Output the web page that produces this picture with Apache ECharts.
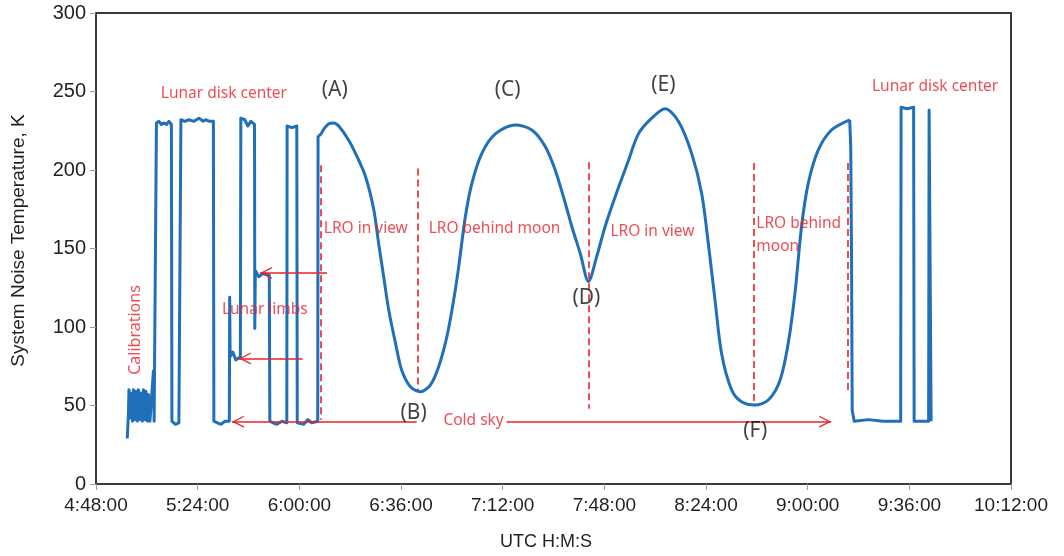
<!DOCTYPE html>
<html><head><meta charset="utf-8">
<script src="https://cdn.jsdelivr.net/npm/echarts@6/dist/echarts.min.js"></script>
<style>html,body{margin:0;padding:0;background:#fff}#c{width:1064px;height:556px}</style>
</head><body><div id="c"></div>
<script>
// ---------- data ----------
const xTickLabels = ['4:48:00','5:24:00','6:00:00','6:36:00','7:12:00','7:48:00','8:24:00','9:00:00','9:36:00','10:12:00'];

// calibrations, lunar disk center blocks, lunar limbs, cold sky
const stepTimes = ['4:59:04','4:59:30','4:59:40','5:00:02','5:00:23','5:00:55','5:01:16','5:01:48','5:02:09','5:02:41','5:03:02','5:03:34','5:03:55','5:04:27','5:04:48','5:05:20','5:05:41','5:06:13','5:06:34','5:07:06','5:07:48','5:08:20','5:08:35','5:09:13',
  '5:09:24','5:10:17','5:11:10','5:12:03','5:12:56','5:13:49','5:14:42','5:14:53','5:16:07','5:17:21','5:17:53',
  '5:18:04','5:19:30','5:20:54','5:22:40','5:24:26','5:26:00','5:26:55','5:28:15','5:29:34','5:29:44','5:31:00','5:32:13','5:33:40','5:35:13',
  '5:35:20','5:35:30','5:36:27','5:37:31','5:39:07','5:39:17','5:40:42','5:41:46','5:42:50','5:44:08','5:44:14','5:44:25','5:45:39','5:47:04','5:49:22','5:49:33','5:50:45','5:52:01','5:53:50','5:55:34',
  '5:55:40','5:57:20','5:59:06','5:59:16','6:01:34','6:02:59','6:04:24','6:06:31','6:06:38'];
const stepValues = [29,45,60,42,58,40,60,41,59,40,60,41,58,40,60,41,59,40,57,40,39,72,40,40,
  230,231,229,230,229,231,229,40,38,39,40,
  232,231,232,231,233,231,232,231,231,40,39,38,40,40,
  119,81,84,79,81,233,232,228,231,229,99,136,132,134,133,40,39,38,40,39,
  228,227,228,39,38,41,39,40,222];

// tracking LRO: (A) .. (F)
const curveTimes = ['6:06:38','6:07:07','6:08:39','6:10:25','6:12:11','6:13:57','6:17:29','6:20:19','6:23:24','6:26:20','6:28:06','6:29:52','6:31:38','6:34:01','6:36:14','6:39:19','6:42:51','6:46:23','6:49:20','6:52:16','6:54:38','6:56:24','6:58:46','7:01:06','7:04:38','7:09:23','7:16:27','7:22:20','7:27:04','7:30:36','7:34:09','7:36:29','7:39:27','7:42:23','7:45:19','7:48:17','7:51:50','7:56:32','8:00:04','8:04:46','8:09:31','8:14:13','8:18:55','8:22:28','8:24:50','8:27:12','8:29:32','8:33:04','8:36:36','8:41:21','8:46:03','8:50:11','8:53:07','8:55:30','8:57:50','9:00:12','9:03:44','9:08:27','9:14:53'];
const curveValues = [222,222,226,229.5,230,228,219,209,196,175,153,132,111,90,72.6,62,58.8,63,74.7,94,117,138,170,191.5,210.6,223,228.7,225.5,215,200,179,164,147,129,145,164,183,206,223,233,239,231,210.6,185,153,117,83,60,52.4,50.3,53.5,66,89.6,121.5,164,191.5,212.7,225.5,232];

// cold sky and final lunar disk center
const tailTimes = ['9:14:53','9:15:15','9:15:32','9:15:46','9:16:29','9:21:26','9:26:44','9:32:56','9:33:05','9:35:13','9:37:31','9:37:42','9:40:10','9:42:50','9:43:00','9:43:32','9:43:43'];
const tailValues = [232,215,145,47,40,41,40,40,240,239,240,40,40,40,238,238,40];

// annotations (time, K)
const dashLines = [['6:07:29',203,41],['6:41:54',201,60],['7:42:38',205,48],['8:40:51',204.5,51.6],['9:14:21',204.5,58]];
const arrows = [['6:41:33',39.7,'5:36:06',39.7],['7:13:23',39.7,'9:08:20',39.7],['6:09:49',134.4,'5:46:01',134.4],['6:01:10',80,'5:38:35',80]];
const letterLabels = [['6:12:32',251,'(A)'],['6:40:29',45,'(B)'],['7:13:44',251,'(C)'],['7:41:40',118.5,'(D)'],['8:08:55',254,'(E)'],['8:41:27',34,'(F)']];
const redCentered = [['5:33:17',248.4,'Lunar disk center'],['9:45:07',252.9,'Lunar disk center'],['5:47:47',110.8,'Lunar limbs'],['7:01:42',40.1,'Cold sky']];
const redLeft = [['6:08:39',163,'LRO in view'],['6:45:47',163,'LRO behind moon'],['7:50:10',160.8,'LRO in view'],['8:41:48',165.9,'LRO behind'],['8:41:48',151.3,'moon']];
const redRotated = [['5:01:48',98.1,'Calibrations']];

// ---------- helpers ----------
const sec = s => { const p = s.split(':').map(Number); return p[0]*3600 + p[1]*60 + p[2]; };
const pad = n => (n < 10 ? '0' : '') + n;
const fmt = v => { v = Math.round(v); return Math.floor(v/3600) + ':' + pad(Math.floor(v%3600/60)) + ':' + pad(v%60); };
const pairs = (t, v) => t.map((s, i) => [sec(s), v[i]]);

const RED = '#e8222a', BLUE = '#1f6fb9';
// open chevron pointing "up" (along the line), tip at the centre of its 24x24 box
const chevron = 'path://M0,0L0.01,0L0.01,0.01Z M24,0L23.99,0L23.99,0.01Z M12,12L18,24L16.6,24L12,14.8L7.4,24L6,24Z';

const chart = echarts.init(document.getElementById('c'), null, {renderer: 'canvas'});
const lineStyle = {color: BLUE, width: 3, join: 'round'};

chart.setOption({
  animation: false,
  backgroundColor: '#fff',
  grid: {left: 96, right: 53, top: 13, bottom: 72, show: true, borderColor: '#3a3a3a', borderWidth: 2, backgroundColor: 'transparent'},
  xAxis: {
    type: 'value', min: sec(xTickLabels[0]), max: sec(xTickLabels[xTickLabels.length-1]), interval: 2160,
    name: 'UTC H:M:S', nameLocation: 'middle', nameGap: 49,
    nameTextStyle: {fontFamily: 'Liberation Sans', fontSize: 18, color: '#231f20', padding: [0, 15, 0, 0]},
    axisLine: {show: true, lineStyle: {color: '#3a3a3a', width: 2}},
    axisTick: {show: true, length: 6, lineStyle: {color: '#a0a0a0', width: 1}},
    axisLabel: {formatter: fmt, fontFamily: 'Liberation Sans', fontSize: 19, color: '#231f20', margin: 12},
    splitLine: {show: false}
  },
  yAxis: {
    type: 'value', min: 0, max: 300, interval: 50,
    name: 'System Noise Temperature, K', nameLocation: 'middle', nameGap: 68,
    nameTextStyle: {fontFamily: 'Liberation Sans', fontSize: 19, color: '#231f20', padding: [0, 0, 0, 16]},
    axisLine: {show: true, lineStyle: {color: '#3a3a3a', width: 2}},
    axisTick: {show: true, length: 6, lineStyle: {color: '#a0a0a0', width: 1}},
    axisLabel: {fontFamily: 'Liberation Sans', fontSize: 20, color: '#231f20', margin: 10},
    splitLine: {show: false}
  },
  series: [
    {type: 'line', data: pairs(stepTimes, stepValues), showSymbol: false, symbol: 'none', lineStyle, z: 3},
    {type: 'line', data: pairs(curveTimes, curveValues), showSymbol: false, symbol: 'none', smooth: 0.3, lineStyle, z: 3,
      markLine: {
        silent: true, animation: false, symbol: ['none', 'none'], label: {show: false},
        lineStyle: {color: RED, width: 1.6, type: [7, 4]},
        data: dashLines.map(d => [{coord: [sec(d[0]), d[1]]}, {coord: [sec(d[0]), d[2]]}])
      }
    },
    {type: 'line', data: pairs(tailTimes, tailValues), showSymbol: false, symbol: 'none', lineStyle, z: 3},
    {type: 'line', data: pairs(tailTimes, tailValues).slice(0, 1), showSymbol: false, symbol: 'none', lineStyle: {width: 0}, z: 5,
      markLine: {
        silent: true, animation: false, symbol: ['none', chevron], symbolSize: 24, label: {show: false},
        lineStyle: {color: RED, width: 1.6, type: 'solid'}, itemStyle: {color: RED},
        data: arrows.map(a => [{coord: [sec(a[0]), a[1]]}, {coord: [sec(a[2]), a[3]]}])
      }
    },
    {type: 'scatter', symbolSize: 0, z: 6, silent: true,
      data: letterLabels.map(d => [sec(d[0]), d[1], d[2]]),
      label: {show: true, position: 'inside', formatter: p => p.data[2], fontFamily: 'Noto Sans', fontSize: 21, color: '#111'}},
    {type: 'scatter', symbolSize: 0, z: 6, silent: true,
      data: redCentered.map(d => [sec(d[0]), d[1], d[2]]),
      label: {show: true, position: 'inside', formatter: p => p.data[2], fontFamily: 'Noto Sans', fontSize: 15.5, color: RED}},
    {type: 'scatter', symbolSize: 0, z: 6, silent: true,
      data: redLeft.map(d => [sec(d[0]), d[1], d[2]]),
      label: {show: true, position: 'right', distance: 0, formatter: p => p.data[2], fontFamily: 'Noto Sans', fontSize: 15.5, color: RED}},
    {type: 'scatter', symbolSize: 0, z: 6, silent: true,
      data: redRotated.map(d => [sec(d[0]), d[1], d[2]]),
      label: {show: true, position: 'inside', rotate: 90, formatter: p => p.data[2], fontFamily: 'Noto Sans', fontSize: 16, color: RED}}
  ]
});
</script></body></html>
